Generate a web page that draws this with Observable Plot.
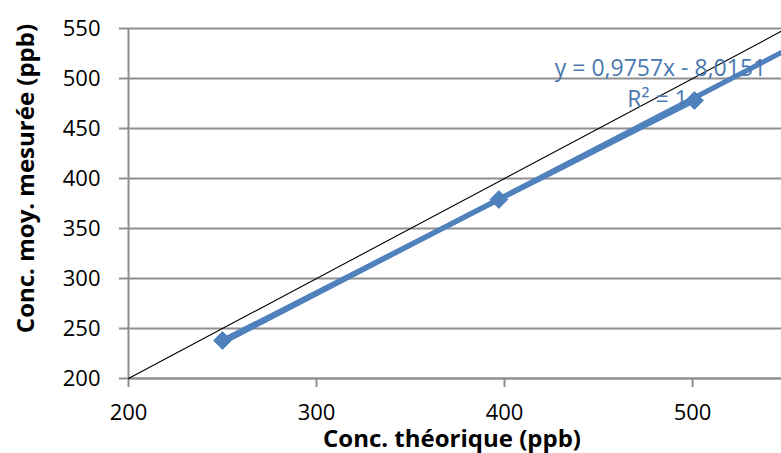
<!DOCTYPE html>
<html><head><meta charset="utf-8">
<script src="https://cdn.jsdelivr.net/npm/d3@7"></script>
<script src="https://cdn.jsdelivr.net/npm/@observablehq/plot@0.6"></script>
<style>html,body{margin:0;padding:0;background:#fff} svg{display:block}</style>
</head><body><div id="chart"></div>
<script>
// Data
const theoretical = [250, 397, 501];
const measured = [238, 379, 478];
const xTicks = [200, 300, 400, 500];
const yTicks = [200, 250, 300, 350, 400, 450, 500, 550];
const xDomain = [200, 547.3];
const yDomain = [200, 550];
const trendSlope = 0.9757;
const trendIntercept = -8.0151;
const trendX = [250, 547.3];
const identityX = [200, 547.3];
const equationLabel = "y = 0,9757x - 8,0151";
const r2Label = "R² = 1";
const xTitle = "Conc. théorique (ppb)";
const yTitle = "Conc. moy. mesurée (ppb)";

const points = theoretical.map((x, i) => ({x, y: measured[i]}));
const trend = trendX.map(x => ({x, y: trendSlope * x + trendIntercept}));
const identity = identityX.map(x => ({x, y: x}));

const blue = "#4F81BD";
const grid = "#8f8f8f";
const font = "'Open Sans', 'Liberation Sans', sans-serif";

const chart = Plot.plot({
  width: 781,
  height: 453,
  marginLeft: 128,
  marginRight: 0,
  marginTop: 28,
  marginBottom: 75,
  style: {fontFamily: font, fontSize: "22px", color: "#000", background: "#fff"},
  x: {domain: xDomain, axis: null},
  y: {domain: yDomain, axis: null},
  marks: [
    Plot.ruleY(yTicks, {stroke: grid, strokeWidth: 2}),
    Plot.axisY(yTicks, {anchor: "left", tickSize: 9, tickPadding: 19, stroke: grid, strokeWidth: 2, fontSize: 22, fill: "#000", label: null, tickFormat: d => String(d)}),
    Plot.axisX(xTicks, {anchor: "bottom", tickSize: 9, tickPadding: 17, stroke: grid, strokeWidth: 2, fontSize: 22, fill: "#000", label: null, tickFormat: d => String(d)}),
    Plot.ruleX([200], {stroke: grid, strokeWidth: 2}),
    Plot.ruleY([200], {stroke: grid, strokeWidth: 2}),
    Plot.line(identity, {x: "x", y: "y", stroke: "#000", strokeWidth: 1.1}),
    Plot.line(points, {x: "x", y: "y", stroke: blue, strokeWidth: 5}),
    Plot.line(trend, {x: "x", y: "y", stroke: blue, strokeWidth: 5}),
    Plot.dot(points, {x: "x", y: "y", symbol: "diamond2", r: 8, fill: blue, stroke: blue, strokeWidth: 1}),
    Plot.text([equationLabel], {frameAnchor: "top-right", text: d => d, textAnchor: "middle", lineAnchor: "middle", dx: -121, dy: 40, fontSize: 23, fill: "#4a78b0"}),
    Plot.text([r2Label], {frameAnchor: "top-right", text: d => d, textAnchor: "middle", lineAnchor: "middle", dx: -124, dy: 71, fontSize: 23, fill: "#4a78b0"}),
    Plot.text([xTitle], {frameAnchor: "bottom", text: d => d, textAnchor: "middle", lineAnchor: "middle", dx: -3, dy: 61, fontSize: 24, fontWeight: "bold", fill: "#000"}),
    Plot.text([yTitle], {frameAnchor: "left", text: d => d, textAnchor: "middle", lineAnchor: "middle", rotate: -90, dx: -102, dy: -25, fontSize: 24, fontWeight: "bold", fill: "#000"})
  ]
});
document.getElementById("chart").appendChild(chart);
</script>
</body></html>
